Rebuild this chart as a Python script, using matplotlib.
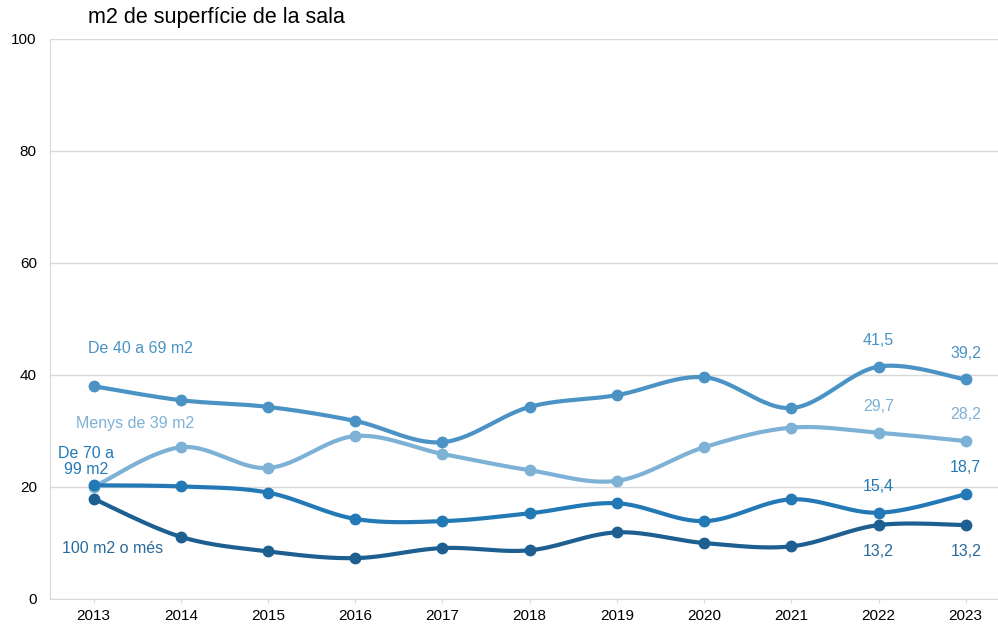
import numpy as np
import matplotlib
matplotlib.use("Agg")
import matplotlib.pyplot as plt

plt.rcParams['font.family'] = ['Liberation Sans', 'DejaVu Sans']

years = ["2013", "2014", "2015", "2016", "2017", "2018", "2019", "2020", "2021", "2022", "2023"]
de40a69 = [38.0, 35.5, 34.3, 31.8, 28.0, 34.3, 36.4, 39.6, 34.1, 41.5, 39.2]
menys39 = [20.0, 27.1, 23.4, 29.1, 25.9, 23.0, 21.1, 27.1, 30.6, 29.7, 28.2]
de70a99 = [20.3, 20.1, 19.0, 14.3, 13.9, 15.3, 17.1, 13.9, 17.8, 15.4, 18.7]
m100 = [17.9, 11.1, 8.5, 7.3, 9.1, 8.7, 11.9, 10.0, 9.4, 13.2, 13.2]

c_light = "#7db1d6"
c_mid = "#4b93c4"
c_blue = "#2379b6"
c_dark = "#1c5f90"
c_dark_txt = "#2a6a9a"


def smooth(x, y, n=30):
    x = np.asarray(x, float)
    y = np.asarray(y, float)
    xs, ys = [], []
    for i in range(len(x) - 1):
        p0 = (x[i - 1], y[i - 1]) if i > 0 else (x[i], y[i])
        p1 = (x[i], y[i])
        p2 = (x[i + 1], y[i + 1])
        p3 = (x[i + 2], y[i + 2]) if i + 2 < len(x) else (x[i + 1], y[i + 1])
        t = 1 / 6
        c1 = (p1[0] + (p2[0] - p0[0]) * t, p1[1] + (p2[1] - p0[1]) * t)
        c2 = (p2[0] - (p3[0] - p1[0]) * t, p2[1] - (p3[1] - p1[1]) * t)
        s = np.linspace(0, 1, n)
        bx = (1 - s) ** 3 * p1[0] + 3 * (1 - s) ** 2 * s * c1[0] + 3 * (1 - s) * s ** 2 * c2[0] + s ** 3 * p2[0]
        by = (1 - s) ** 3 * p1[1] + 3 * (1 - s) ** 2 * s * c1[1] + 3 * (1 - s) * s ** 2 * c2[1] + s ** 3 * p2[1]
        xs.extend(bx)
        ys.extend(by)
    return np.array(xs), np.array(ys)


fig = plt.figure(figsize=(9.98, 6.25), dpi=100)
ax = fig.add_axes([50 / 998, 26 / 625, (998 - 50) / 998, (599 - 39) / 625])

x = np.arange(len(years))
series = [(de40a69, c_mid), (menys39, c_light), (de70a99, c_blue), (m100, c_dark)]
for vals, col in series:
    sx, sy = smooth(x, vals)
    ax.plot(sx, sy, color=col, lw=3.0, solid_capstyle='round', zorder=3)
    ax.plot(x, vals, 'o', color=col, ms=7.5, zorder=4)

ax.set_xlim(-0.5, 10.37)
ax.set_ylim(0, 100)
ax.set_yticks([0, 20, 40, 60, 80, 100])
ax.set_xticks(x)
ax.set_xticklabels(years)
ax.grid(axis='y', color='#d9d9d9', lw=1)
ax.set_axisbelow(True)
for s in ['top', 'right']:
    ax.spines[s].set_visible(False)
for s in ['left', 'bottom']:
    ax.spines[s].set_color('#d9d9d9')
ax.tick_params(axis='y', length=0, labelsize=11, colors='#000000', pad=9.5)
ax.tick_params(axis='x', length=3, color='#d9d9d9', labelsize=11, pad=4)

fig.text(88 / 998, 1 - 17 / 625, "m2 de superfície de la sala", fontsize=15.5, va='center', ha='left')

FS = 11.5
# series labels
ax.text(-0.07, 44.8, "De 40 a 69 m2", color=c_mid, fontsize=FS, va='center', ha='left')
ax.text(-0.2, 31.4, "Menys de 39 m2", color=c_light, fontsize=FS, va='center', ha='left')
ax.text(-0.09, 24.6, "De 70 a\n99 m2", color=c_blue, fontsize=FS, va='center', ha='center', linespacing=1.05)
ax.text(0.22, 9.1, "100 m2 o més", color=c_dark_txt, fontsize=FS, va='center', ha='center')

# value labels
def fmt(v):
    return f"{v:.1f}".replace('.', ',')

for i in (9, 10):
    ax.annotate(fmt(de40a69[i]), (x[i], de40a69[i]), xytext=(0, 19), textcoords='offset points',
                ha='center', va='center', color=c_mid, fontsize=FS)
    ax.annotate(fmt(menys39[i]), (x[i], menys39[i]), xytext=(0, 19), textcoords='offset points',
                ha='center', va='center', color=c_light, fontsize=FS)
    ax.annotate(fmt(de70a99[i]), (x[i], de70a99[i]), xytext=(0, 19), textcoords='offset points',
                ha='center', va='center', color=c_blue, fontsize=FS)
    ax.annotate(fmt(m100[i]), (x[i], m100[i]), xytext=(0, -19), textcoords='offset points',
                ha='center', va='center', color=c_dark_txt, fontsize=FS)

fig.savefig("out.png", dpi=100)
